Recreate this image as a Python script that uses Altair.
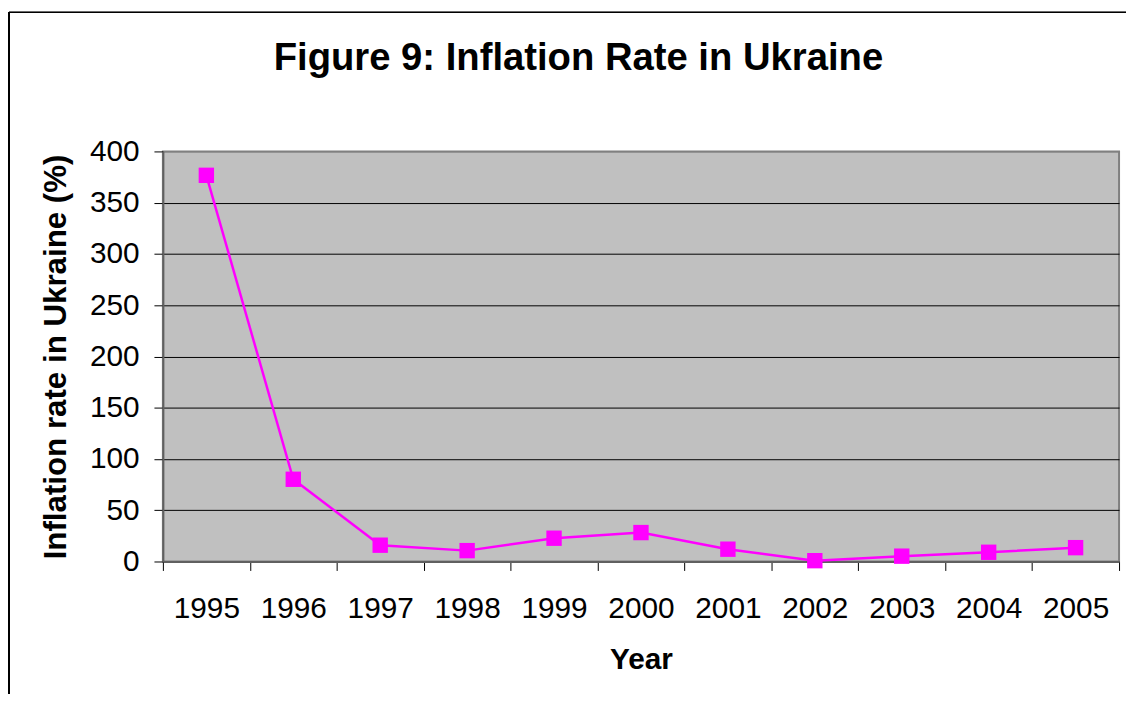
import altair as alt
import pandas as pd

years = ["1995", "1996", "1997", "1998", "1999", "2000", "2001", "2002", "2003", "2004", "2005"]
inflation = [376.7, 80.2, 15.9, 10.6, 22.7, 28.2, 12.0, 0.8, 5.2, 9.0, 13.5]
y_ticks = [0, 50, 100, 150, 200, 250, 300, 350, 400]

df = pd.DataFrame({"year": years, "rate": inflation})

FONT = "Liberation Sans"
MAGENTA = "#FF00FF"

x_enc = alt.X(
    "year:O",
    bandPosition=0.5,
    sort=years,
    scale=alt.Scale(type="band", paddingInner=0, paddingOuter=0),
    axis=alt.Axis(
        title="Year",
        titleFont=FONT, titleFontSize=30, titleFontWeight="bold", titleColor="black",
        titleBaseline="middle", titleY=99,
        labelFont=FONT, labelFontSize=30, labelColor="black", labelAngle=0,
        labelPadding=23,
        tickBand="extent", tickSize=9, tickColor="black", tickWidth=1,
        domainColor="#606060", domainWidth=2, grid=False,
    ),
)
y_enc = alt.Y(
    "rate:Q",
    scale=alt.Scale(domain=[0, 400], nice=False),
    axis=alt.Axis(
        title="Inflation rate in Ukraine (%)",
        titleFont=FONT, titleFontSize=31.5, titleFontWeight="bold", titleColor="black",
        titleBaseline="middle", titleX=-107, titleAngle=270,
        labelFont=FONT, labelFontSize=30, labelColor="black", labelPadding=15,
        values=y_ticks,
        tickSize=9, tickColor="black", tickWidth=1,
        domainColor="#606060", domainWidth=2,
        grid=True,
        gridColor=alt.condition("datum.value == 400", alt.value("#808080"), alt.value("black")),
        gridWidth=1,
    ),
)

line = alt.Chart(df).mark_line(color=MAGENTA, strokeWidth=2.5).encode(x=x_enc, y=y_enc)
pts = alt.Chart(df).mark_point(shape="square", filled=True, size=240, color=MAGENTA, opacity=1).encode(
    x=alt.X("year:O", sort=years, bandPosition=0.5), y="rate:Q"
)

frame_left = alt.Chart(df).mark_rule(color="black", strokeWidth=1).encode(
    x=alt.value(-155), y=alt.value(-140), y2=alt.value(560)
)
frame_top = alt.Chart(df).mark_rule(color="black", strokeWidth=1).encode(
    x=alt.value(-155), x2=alt.value(980), y=alt.value(-140)
)

chart = alt.layer(frame_left, frame_top, line, pts).properties(
    width=963,
    height=413,
    background="white",
    autosize=alt.AutoSizeParams(type="none"),
    padding={"left": 156, "top": 142, "right": 7, "bottom": 131},
    title=alt.TitleParams(
        "Figure 9: Inflation Rate in Ukraine",
        font=FONT, fontSize=38.5, fontWeight="bold", color="black",
        anchor="middle", dx=-63, offset=-67,
    ),
).configure_view(
    fill="#C0C0C0", stroke="#808080", strokeWidth=2
)

chart.save("out.html", embed_options={"renderer": "svg", "actions": False})
